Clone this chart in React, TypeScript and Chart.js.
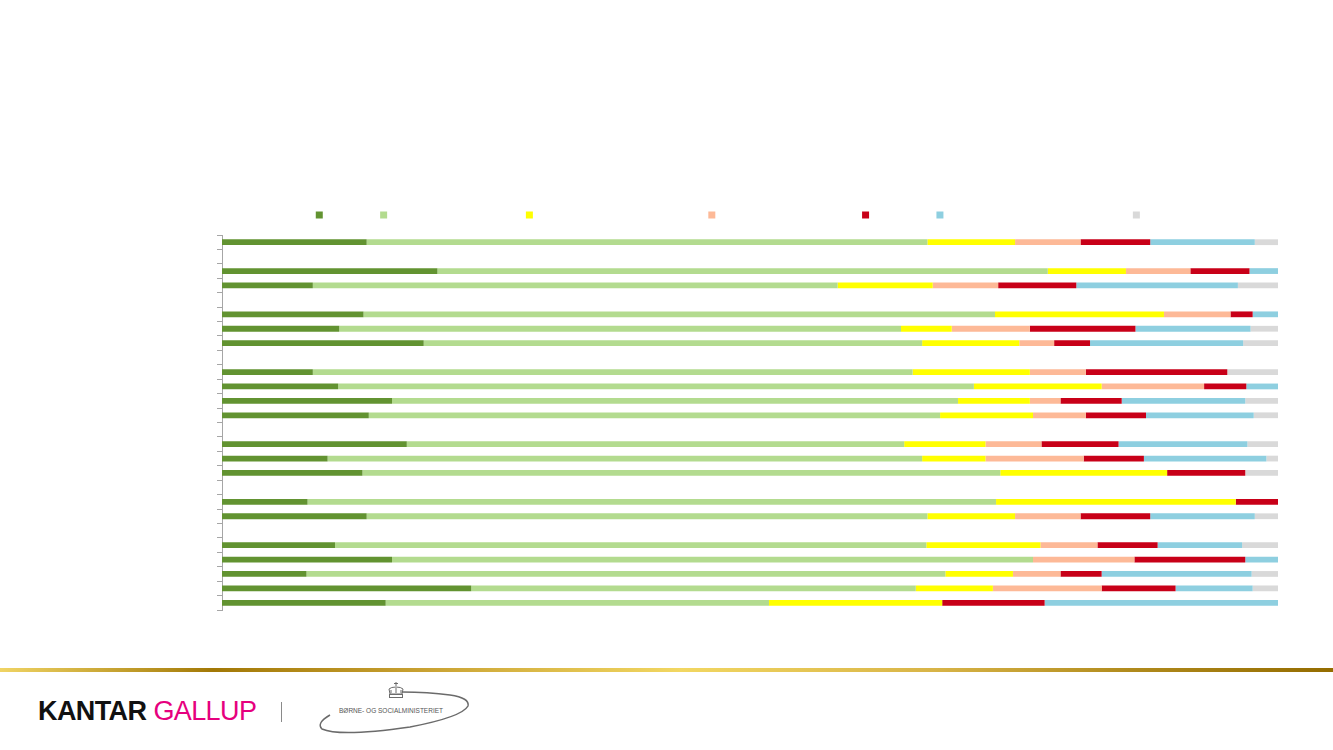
import React, { useEffect, useRef } from "react";
import { Chart, registerables } from "chart.js";

Chart.register(...registerables);

// ---- Data ----
const categories = [
  "Spørgsmål 1", "", "Spørgsmål 2", "Spørgsmål 3", "", "Spørgsmål 4", "Spørgsmål 5",
  "Spørgsmål 6", "", "Spørgsmål 7", "Spørgsmål 8", "Spørgsmål 9", "Spørgsmål 10", "",
  "Spørgsmål 11", "Spørgsmål 12", "Spørgsmål 13", "", "Spørgsmål 14", "Spørgsmål 15", "",
  "Spørgsmål 16", "Spørgsmål 17", "Spørgsmål 18", "Spørgsmål 19", "Spørgsmål 20",
];

const seriesNames = [
  "Dagligt",
  "Et par gange om ugen",
  "Mindst en gang om måneden",
  "Sjældnere end ugentligt",
  "Sjældent",
  "Aldrig, men har haft brug for det",
  "Ved ej",
];

const seriesColors = ["#629331", "#b3db8f", "#ffff00", "#fdb997", "#c80018", "#8ecfe0", "#d9d9d9"];

const s1 = [13.7, null, 20.4, 8.6, null, 13.4, 11.1, 19.1, null, 8.6, 11.0, 16.1, 13.9, null, 17.5, 10.0, 13.3, null, 8.1, 13.7, null, 10.7, 16.1, 8.0, 23.6, 15.5];
const s2 = [53.1, null, 57.8, 49.7, null, 59.8, 53.2, 47.2, null, 56.8, 60.2, 53.6, 54.1, null, 47.1, 56.3, 60.4, null, 65.2, 53.1, null, 56.0, 60.7, 60.5, 42.1, 36.3];
const s3 = [8.3, null, 7.4, 9.0, null, 16.0, 4.8, 9.2, null, 11.1, 12.1, 6.8, 8.8, null, 7.7, 6.0, 15.8, null, 22.7, 8.3, null, 10.8, 0, 6.4, 7.3, 16.4];
const s4 = [6.2, null, 6.1, 6.2, null, 6.3, 7.4, 3.3, null, 5.3, 9.7, 2.9, 5.0, null, 5.3, 9.3, 0, null, 0, 6.2, null, 5.4, 9.6, 4.5, 10.3, 0];
const s5 = [6.6, null, 5.6, 7.4, null, 2.1, 10.0, 3.4, null, 13.4, 4.0, 5.8, 5.7, null, 7.3, 5.7, 7.4, null, 4.0, 6.6, null, 5.7, 10.5, 3.9, 7.0, 9.7];
const s6 = [9.9, null, 2.7, 15.3, null, 2.4, 10.9, 14.5, null, 0, 3.0, 11.7, 10.2, null, 12.2, 11.6, 0, null, 0, 9.9, null, 8.0, 3.1, 14.2, 7.3, 22.1];
const s7 = [2.2, null, 0, 3.8, null, 0, 2.6, 3.3, null, 4.8, 0, 3.1, 2.3, null, 2.9, 1.1, 3.1, null, 0, 2.2, null, 3.4, 0, 2.5, 2.4, 0];

const seriesValues = [s1, s2, s3, s4, s5, s6, s7];

// adds a little space between the legend and the plot area
const legendGap = {
  id: "legendGap",
  beforeInit(chart: any) {
    const legend = chart.legend;
    if (!legend) return;
    const origFit = legend.fit;
    legend.fit = function () {
      origFit.call(this);
      this.height += 4;
    };
  },
};

function BarChart() {
  const ref = useRef<HTMLCanvasElement | null>(null);
  useEffect(() => {
    if (!ref.current) return;
    const chart = new Chart(ref.current, {
      type: "bar",
      data: {
        labels: categories,
        datasets: seriesNames.map((name, i) => ({
          label: name,
          data: seriesValues[i],
          backgroundColor: seriesColors[i],
          borderWidth: 0,
          categoryPercentage: 0.8,
          barPercentage: 0.5,
        })),
      },
      plugins: [legendGap],
      options: {
        indexAxis: "y",
        animation: false,
        responsive: true,
        maintainAspectRatio: false,
        layout: { padding: { left: 217, right: 55, top: 15, bottom: 20 } },
        plugins: {
          legend: {
            position: "top",
            labels: {
              boxWidth: 7,
              boxHeight: 7,
              padding: 14,
              color: "#ffffff",
              font: { family: "'Liberation Sans', Arial, sans-serif", size: 12 },
            },
          },
          tooltip: { enabled: false },
        },
        scales: {
          x: {
            stacked: true,
            min: 0,
            max: 100,
            display: false,
          },
          y: {
            stacked: true,
            grid: {
              drawOnChartArea: false,
              drawTicks: true,
              tickLength: 5,
              color: "#a6a6a6",
            },
            border: { color: "#a6a6a6", width: 1 },
            ticks: { display: false },
          },
        },
      },
    });
    return () => chart.destroy();
  }, []);
  return <canvas ref={ref} />;
}

function Crown() {
  return (
    <g fill="none" stroke="#6b6b6b" strokeWidth="1">
      <line x1="86" y1="3" x2="86" y2="7" />
      <line x1="84" y1="4.5" x2="88" y2="4.5" />
      <path d="M79 10 Q81 8 86 8 Q91 8 93 10 L92 15 L80 15 Z" />
      <path d="M81 11 L81 14 M86 9 L86 14 M91 11 L91 14" />
      <rect x="79.5" y="15.5" width="13" height="3" />
    </g>
  );
}

export default function App() {
  return (
    <div
      style={{
        position: "absolute",
        left: 0,
        top: 0,
        width: 1333,
        height: 750,
        overflow: "hidden",
        background: "#ffffff",
        fontFamily: "'Liberation Sans', Arial, sans-serif",
      }}
    >
      <div style={{ position: "absolute", left: 0, top: 180, width: 1333, height: 450 }}>
        <BarChart />
      </div>
      <div
        style={{
          position: "absolute",
          left: 0,
          top: 668,
          width: 1333,
          height: 4,
          background:
            "linear-gradient(to right, #f0d464 0%, #a27806 16%, #c9a233 32%, #f2d762 51%, #d8b447 70%, #b08a1c 85%, #946c00 100%)",
        }}
      />
      <div
        style={{
          position: "absolute",
          left: 38,
          top: 694,
          fontSize: 27,
          lineHeight: "34px",
          whiteSpace: "nowrap",
          letterSpacing: -0.6,
        }}
      >
        <span style={{ color: "#111111", fontWeight: 700 }}>KANTAR</span>
        <span style={{ color: "#e6007e", fontWeight: 400, marginLeft: 7 }}>GALLUP</span>
      </div>
      <div style={{ position: "absolute", left: 281, top: 702, width: 1, height: 20, background: "#8a8a8a" }} />
      <svg
        style={{ position: "absolute", left: 310, top: 679 }}
        width={170}
        height={64}
        viewBox="0 0 170 64"
      >
        <Crown />
        <path
          d="M20 36 Q6 44 12 50 Q30 58 100 48 Q152 38 158 27 Q160 19 140 16 Q118 13 92 13"
          fill="none"
          stroke="#6b6b6b"
          strokeWidth="1.5"
        />
        <text
          x="29"
          y="34"
          fontSize="6.5"
          fill="#555555"
          fontFamily="'Liberation Sans', Arial, sans-serif"
        >
          BØRNE- OG SOCIALMINISTERIET
        </text>
      </svg>
    </div>
  );
}
